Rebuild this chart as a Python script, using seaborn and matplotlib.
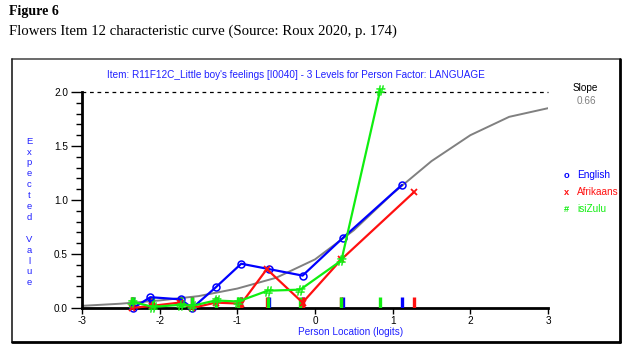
import matplotlib
matplotlib.use("Agg")
import matplotlib.pyplot as plt
from matplotlib.lines import Line2D
import seaborn as sns
import pandas as pd

# class interval means (logits) and observed means per language group
english_x = [-2.34, -2.12, -1.73, -1.58, -1.28, -0.95, -0.59, -0.16, 0.36, 1.12]
english_y = [0.00, 0.10, 0.08, 0.00, 0.19, 0.41, 0.36, 0.30, 0.65, 1.14]
afrikaans_x = [-2.36, -2.10, -1.74, -1.58, -1.28, -0.95, -0.62, -0.16, 0.34, 1.27]
afrikaans_y = [0.00, 0.02, 0.05, 0.00, 0.05, 0.04, 0.36, 0.05, 0.45, 1.07]
isizulu_x = [-2.36, -2.09, -1.73, -1.58, -1.28, -0.99, -0.61, -0.19, 0.34, 0.84]
isizulu_y = [0.06, 0.01, 0.03, 0.02, 0.07, 0.06, 0.16, 0.17, 0.44, 2.02]

# expected value curve (model), read at half-logit steps
icc_x = [-3, -2.5, -2, -1.5, -1, -0.5, 0, 0.5, 1, 1.5, 2, 2.5, 3]
icc_y = [0.02, 0.04, 0.07, 0.11, 0.18, 0.28, 0.45, 0.72, 1.06, 1.36, 1.60, 1.77, 1.85]

x_ticks = [-3, -2, -1, 0, 1, 2, 3]
y_ticks = [0.0, 0.5, 1.0, 1.5, 2.0]

groups = ["English", "Afrikaans", "isiZulu"]
colors = {"English": "#0000ff", "Afrikaans": "#ff1010", "isiZulu": "#10ee10"}
symbols = {"English": "o", "Afrikaans": "x", "isiZulu": "#"}

df = pd.concat([
    pd.DataFrame({"loc": english_x, "ev": english_y, "group": "English"}),
    pd.DataFrame({"loc": afrikaans_x, "ev": afrikaans_y, "group": "Afrikaans"}),
    pd.DataFrame({"loc": isizulu_x, "ev": isizulu_y, "group": "isiZulu"}),
])
icc = pd.DataFrame({"loc": icc_x, "ev": icc_y})

sns.set_theme(style="white")
plt.rcParams["font.family"] = ["Liberation Sans", "DejaVu Sans"]

W, H = 638, 353
fs = 7.2
fig = plt.figure(figsize=(W / 100, H / 100), dpi=100)
ax = fig.add_axes([82 / W, 1 - 308 / H, (548 - 82) / W, (308 - 92) / H])

sns.lineplot(data=icc, x="loc", y="ev", color="#808080", lw=1.4, ax=ax)
ax.plot([-3, 3], [2, 2], color="black", lw=0.9, ls=(0, (3, 3)), clip_on=False)

marker_style = {
    "English": dict(marker="o", mfc="none", mec=colors["English"], ms=5, mew=1.1),
    "Afrikaans": dict(marker="x", mec=colors["Afrikaans"], ms=5, mew=1.3),
    "isiZulu": dict(marker=r"$\#$", mec=colors["isiZulu"], mfc=colors["isiZulu"], ms=7, mew=0.3),
}
for g in groups:
    sub = df[df["group"] == g]
    sns.rugplot(data=sub, x="loc", height=0.05, color=colors[g], linewidth=2.4,
                ax=ax, alpha=1, zorder=3)
for g in groups:
    sub = df[df["group"] == g]
    sns.lineplot(data=sub, x="loc", y="ev", color=colors[g], lw=1.6,
                 estimator=None, ax=ax, clip_on=False, zorder=4, **marker_style[g])

ax.set_xlim(-3, 3)
ax.set_ylim(0, 2)
ax.set_xticks(x_ticks)
ax.set_xticklabels([str(t) for t in x_ticks])
ax.set_yticks(y_ticks)
ax.set_yticklabels([f"{t:.1f}" for t in y_ticks])
ax.set_yticks([i / 10 for i in range(21)], minor=True)
ax.tick_params(axis="x", which="major", direction="out", length=4, width=1,
               labelsize=fs, pad=2, colors="black", bottom=True)
ax.tick_params(axis="y", which="major", direction="out", length=8, width=1,
               labelsize=fs, pad=2, colors="black", left=True)
ax.tick_params(axis="y", which="minor", direction="out", length=4, width=1,
               colors="black", left=True)
ax.set_xlabel("")
ax.set_ylabel("")
for side in ["top", "right"]:
    ax.spines[side].set_visible(False)
for side in ["left", "bottom"]:
    ax.spines[side].set_color("black")
    ax.spines[side].set_linewidth(2)
ax.patch.set_alpha(0)

blue = "#2020ff"
fig.text(296 / W, 1 - 75 / H,
         "Item: R11F12C_Little boy's feelings [I0040] - 3 Levels for Person Factor: LANGUAGE",
         ha="center", va="center", fontsize=fs, color=blue)
fig.text(351 / W, 1 - 332 / H, "Person Location (logits)", ha="center", va="center",
         fontsize=fs, color=blue)
ylabel = "\n".join(list("Expected") + [" "] + list("Value"))
fig.text(29 / W, 1 - 212 / H, ylabel, ha="center", va="center", fontsize=6.8,
         color=blue, linespacing=1.27)

fig.text(585 / W, 1 - 88 / H, "Slope", ha="center", va="center", fontsize=fs, color="black")
fig.text(586 / W, 1 - 101 / H, "0.66", ha="center", va="center", fontsize=fs, color="#808080")
for i, g in enumerate(groups):
    yy = 1 - (175 + 17.2 * i) / H
    fig.text(566 / W, yy, symbols[g], ha="center", va="center", fontsize=fs - 0.5,
             color=colors[g], fontweight="bold")
    fig.text(577 / W, yy, g, ha="left", va="center", fontsize=fs, color=colors[g])

# panel frame
x0, x1 = 12 / W, 620 / W
y0, y1 = 1 - 342 / H, 1 - 59 / H
fig.add_artist(Line2D([x0, x1], [y1, y1], color="#505050", lw=1.2))
fig.add_artist(Line2D([x0, x0], [y0, y1], color="#202020", lw=1.2))
fig.add_artist(Line2D([x1, x1], [y0, y1], color="black", lw=2))
fig.add_artist(Line2D([x0, x1], [y0, y0], color="black", lw=2))

serif = ["Liberation Serif", "DejaVu Serif"]
fig.text(9 / W, 1 - 12 / H, "Figure 6", ha="left", va="center", fontsize=10,
         fontweight="bold", family=serif, color="black")
fig.text(9 / W, 1 - 31 / H,
         "Flowers Item 12 characteristic curve (Source: Roux 2020, p. 174)",
         ha="left", va="center", fontsize=10.6, family=serif, color="black")

fig.savefig("out.png", dpi=100)
